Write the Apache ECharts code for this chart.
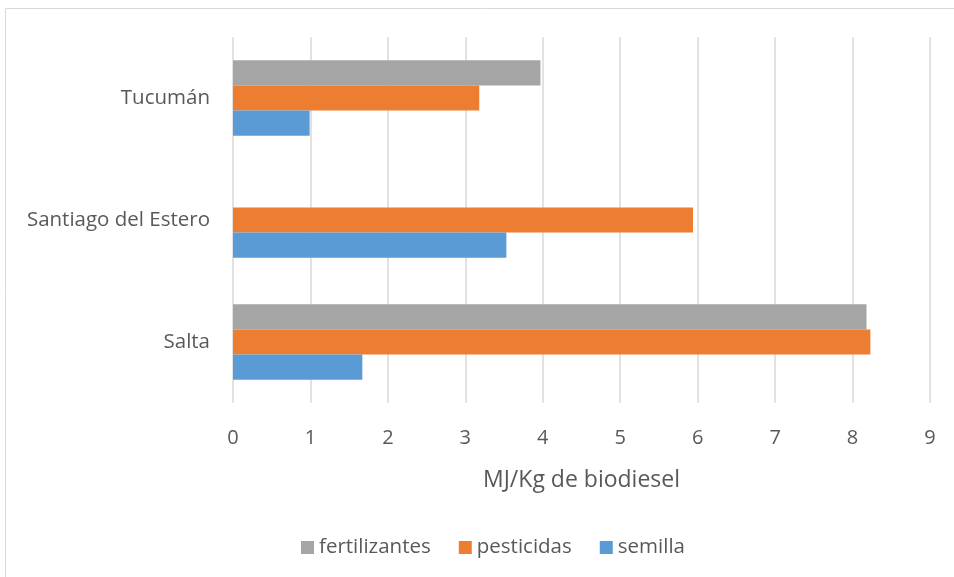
<!DOCTYPE html>
<html>
<head>
<meta charset="utf-8">
<script src="https://cdn.jsdelivr.net/npm/echarts@6/dist/echarts.min.js"></script>
<style>
    html, body { margin: 0; padding: 0; background: #fff; }
    #chart { width: 954px; height: 577px; }
</style>
</head>
<body>
<div id="chart"></div>
<script>
// datos
const regiones = ["Salta", "Santiago del Estero", "Tucumán"];
const fertilizantes = [8.18, 0, 3.97];
const pesticidas = [8.23, 5.94, 3.18];
const semilla = [1.67, 3.53, 0.99];
const leyenda = ["fertilizantes", "pesticidas", "semilla"];

const FONT = "Open Sans";
const GRIS_TXT = "#595959";

let chart = echarts.init(document.getElementById("chart"));

function serie(nombre, datos, color) {
    return {
        name: nombre,
        type: "bar",
        data: datos,
        barGap: "0%",
        barCategoryGap: "38%",
        itemStyle: { color: color },
        silent: true
    };
}

chart.setOption({
    animation: false,
    textStyle: { fontFamily: FONT },
    graphic: [{
        type: "rect",
        shape: { x: 5.5, y: 8.5, width: 960, height: 600 },
        style: { fill: "none", stroke: "#d9d9d9", lineWidth: 1 },
        silent: true
    }],
    grid: { left: 233, right: 24, top: 37, bottom: 174 },
    xAxis: {
        type: "value",
        min: 0,
        max: 9,
        interval: 1,
        name: "MJ/Kg de biodiesel",
        nameLocation: "middle",
        nameGap: 66,
        nameTextStyle: { color: GRIS_TXT, fontSize: 23, fontFamily: FONT },
        axisLine: { show: false },
        axisTick: { show: false },
        axisLabel: { color: GRIS_TXT, fontSize: 20, margin: 25, fontFamily: FONT },
        splitLine: { show: true, lineStyle: { color: "#d9d9d9", width: 1.5 } }
    },
    yAxis: {
        type: "category",
        data: regiones,
        axisLine: { show: false },
        axisTick: { show: false },
        axisLabel: { color: GRIS_TXT, fontSize: 20.5, margin: 23, fontFamily: FONT }
    },
    legend: {
        data: leyenda,
        bottom: 14,
        left: 296,
        itemWidth: 13,
        itemHeight: 13,
        itemGap: 28,
        icon: "rect",
        textStyle: { color: GRIS_TXT, fontSize: 20.5, fontFamily: FONT }
    },
    series: [
        serie("fertilizantes", fertilizantes, "#a5a5a5"),
        serie("pesticidas", pesticidas, "#ed7d31"),
        serie("semilla", semilla, "#5b9bd5")
    ]
});
</script>
</body>
</html>
